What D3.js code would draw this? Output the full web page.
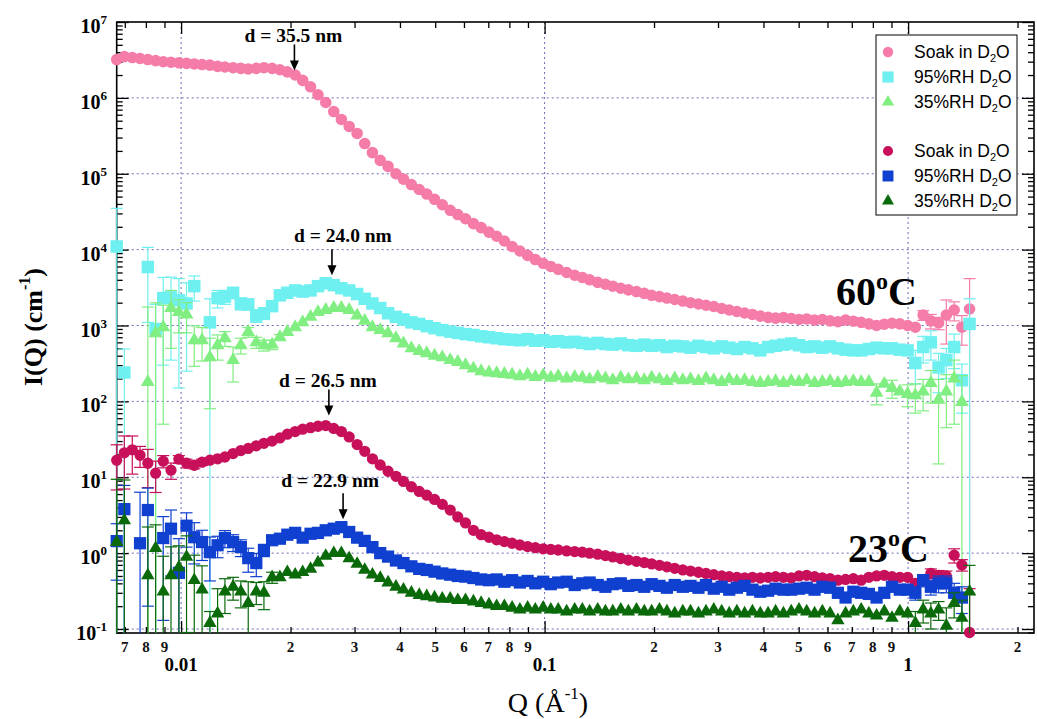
<!DOCTYPE html>
<html>
<head>
<meta charset="utf-8">
<script src="https://cdn.jsdelivr.net/npm/d3@7"></script>
<style>
  body { margin: 0; background: #fff; }
  svg { display: block; }
</style>
</head>
<body>
<svg id="chart" width="1037" height="719"></svg>
<script>
// --- data (Q in 1/Å, I(Q) in 1/cm) ---
const Q = [
  0.00665, 0.00698, 0.00734, 0.00771, 0.00810, 0.00851, 0.00893, 0.00938, 0.00986, 0.01035,
  0.01087, 0.01142, 0.0120, 0.0126, 0.0132, 0.0139, 0.0146, 0.0153, 0.0161, 0.0169,
  0.0178, 0.0187, 0.0196, 0.0206, 0.0216, 0.0227, 0.0238, 0.0250, 0.0263, 0.0276,
  0.0290, 0.0305, 0.0320, 0.0336, 0.0353, 0.0371, 0.0390, 0.0409, 0.0430, 0.0452,
  0.0474, 0.0498, 0.0523, 0.0550, 0.0577, 0.0606, 0.0637, 0.0669, 0.0703, 0.0738,
  0.0775, 0.0814, 0.0855, 0.0898, 0.0943, 0.0991, 0.104, 0.109, 0.115, 0.121,
  0.127, 0.133, 0.140, 0.147, 0.154, 0.162, 0.170, 0.179, 0.188, 0.197,
  0.207, 0.217, 0.228, 0.240, 0.252, 0.265, 0.278, 0.292, 0.307, 0.322,
  0.338, 0.355, 0.373, 0.392, 0.412, 0.432, 0.454, 0.477, 0.501, 0.526,
  0.553, 0.581, 0.610, 0.641, 0.673, 0.707, 0.743, 0.780, 0.819, 0.860,
  0.903, 0.949, 0.997, 1.047, 1.100, 1.155, 1.213, 1.274, 1.339, 1.406,
  1.476
];

// 60 C
const soak60 = [
  3.2e6, 3.5e6, 3.4e6, 3.3e6, 3.2e6, 3.1e6, 3.0e6, 2.95e6, 2.9e6, 2.85e6,
  2.8e6, 2.75e6, 2.7e6, 2.6e6, 2.55e6, 2.5e6, 2.45e6, 2.4e6, 2.45e6, 2.5e6,
  2.45e6, 2.35e6, 2.2e6, 2.0e6, 1.7e6, 1.4e6, 1.1e6, 8.7e5, 6.6e5, 5.2e5,
  4.2e5, 3.4e5, 2.5e5, 1.9e5, 1.5e5, 1.25e5, 1.0e5, 8.5e4, 7.2e4, 6.2e4,
  5.4e4, 4.6e4, 3.9e4, 3.3e4, 2.9e4, 2.55e4, 2.2e4, 1.95e4, 1.7e4, 1.5e4,
  1.3e4, 1.1e4, 9.6e3, 8.4e3, 7.4e3, 6.6e3, 6.0e3, 5.5e3, 5.0e3, 4.6e3,
  4.3e3, 4.0e3, 3.7e3, 3.5e3, 3.3e3, 3.1e3, 2.95e3, 2.8e3, 2.65e3, 2.5e3,
  2.4e3, 2.3e3, 2.2e3, 2.1e3, 2.0e3, 1.92e3, 1.85e3, 1.78e3, 1.68e3, 1.6e3,
  1.53e3, 1.46e3, 1.4e3, 1.33e3, 1.28e3, 1.25e3, 1.27e3, 1.24e3, 1.2e3, 1.22e3,
  1.18e3, 1.2e3, 1.15e3, 1.12e3, 1.18e3, 1.14e3, 1.1e3, 1.05e3, 1.0e3, 1.04e3,
  1.07e3, 1.05e3, 1.0e3, 950, 1.37e3, 1.15e3, 1.08e3, 1.37e3, 1.6e3, 950,
  1.65e3
];
const rh95_60 = [
  1.1e4, 240, null, null, 5.9e3, 900, 2.3e3, 2.35e3, 2.15e3, 1.95e3,
  3.3e3, null, 1.1e3, 2.3e3, 2.4e3, 2.7e3, 1.95e3, 1.9e3, 1.35e3, 1.45e3,
  1.8e3, 2.5e3, 2.7e3, 2.9e3, 2.8e3, 2.9e3, 3.3e3, 3.6e3, 3.4e3, 3.1e3,
  2.9e3, 2.6e3, 2.25e3, 1.95e3, 1.7e3, 1.45e3, 1.3e3, 1.2e3, 1.1e3, 1.05e3,
  980, 920, 870, 830, 800, 770, 750, 720, 700, 680,
  660, 650, 640, 660, 630, 640, 610, 620, 600, 610,
  590, 570, 590, 570, 560, 580, 550, 540, 560, 540,
  550, 520, 540, 530, 510, 540, 520, 500, 530, 510,
  490, 520, 500, 470, 520, 540, 560, 580, 550, 520,
  530, 510, 530, 500, 480, 470, 470, 490, 510, 500,
  500, 480, 470, 320, 520, 600, 280, 350, 520, 190,
  1050
];
const rh35_60 = [
  null, null, null, null, 180, 790, 950, 1.7e3, 1.5e3, 1.4e3,
  640, 640, 380, 550, 680, 350, 550, 820, 600, 550,
  560, 700, 820, 950, 1.1e3, 1.3e3, 1.5e3, 1.6e3, 1.7e3, 1.7e3,
  1.6e3, 1.35e3, 1.15e3, 950, 870, 790, 680, 580, 500, 460,
  430, 400, 380, 350, 330, 300, 270, 250, 240, 235,
  230, 225, 215, 225, 210, 220, 205, 215, 200, 210,
  205, 195, 210, 200, 190, 205, 195, 200, 190, 205,
  195, 185, 200, 190, 195, 185, 200, 190, 180, 195,
  185, 190, 180, 175, 180, 185, 175, 185, 180, 190,
  175, 180, 185, 175, 180, 185, 180, 180, 130, 170,
  150, 135, 125, 120, 135, 175, 105, 135, 200, 98,
  null
];

// 23 C
const soak23 = [
  16.8, 21, 23, 19.5, 15.3, 11.3, 16.3, 12.4, 17.3, 15.3,
  14.4, 15.8, 16.8, 17.5, 18.5, 20.5, 22.5, 24, 26, 28,
  30, 33, 37, 40, 43, 45, 47, 48, 44, 40,
  34, 27, 22, 17.5, 14.5, 12, 10.3, 8.8, 7.5, 6.5,
  5.8, 5.1, 4.4, 3.7, 3.0, 2.5, 2.0, 1.75, 1.62, 1.5,
  1.42, 1.35, 1.28, 1.22, 1.18, 1.14, 1.12, 1.1, 1.07, 1.05,
  1.03, 1.0, 0.97, 0.93, 0.89, 0.85, 0.81, 0.78, 0.75, 0.72,
  0.69, 0.66, 0.63, 0.6, 0.58, 0.56, 0.54, 0.52, 0.5, 0.49,
  0.48, 0.47, 0.48, 0.47, 0.48, 0.49, 0.48, 0.47, 0.5, 0.51,
  0.49, 0.47, 0.46, 0.44, 0.45, 0.46, 0.44, 0.48, 0.5, 0.51,
  0.49, 0.48, 0.48, 0.40, 0.44, 0.54, 0.51, 0.5, 0.94, 0.7,
  0.09
];
const rh95_23 = [
  1.44, 3.8, null, 1.35, 3.7, null, 1.58, 2.1, 0.55, 2.3,
  1.62, 1.4, 1.03, 1.27, 1.58, 1.4, 1.2, 0.86, 0.74, 1.1,
  1.48, 1.55, 1.75, 1.85, 1.6, 1.8, 1.85, 2.0, 2.1, 2.2,
  1.9, 1.6, 1.45, 1.2, 1.0, 0.9, 0.8, 0.74, 0.67, 0.62,
  0.6, 0.57, 0.54, 0.52, 0.5, 0.49, 0.47, 0.45, 0.44, 0.45,
  0.42, 0.44, 0.41, 0.43, 0.4, 0.42, 0.39, 0.41, 0.42, 0.38,
  0.4, 0.41, 0.38, 0.36, 0.39, 0.4, 0.37, 0.38, 0.36, 0.39,
  0.37, 0.35, 0.38, 0.36, 0.37, 0.35, 0.38, 0.34, 0.36, 0.33,
  0.35, 0.37, 0.33, 0.31, 0.32, 0.34, 0.33, 0.33, 0.34, 0.35,
  0.33, 0.36, 0.35, 0.3, 0.26, 0.31, 0.3, 0.29, 0.26, 0.3,
  0.36, 0.33, 0.33, 0.3, 0.44, 0.36, 0.4, 0.4, 0.3, 0.26,
  null
];
const rh35_23 = [
  1.4, 2.7, null, null, 0.51, 1.16, 0.31, 0.51, 0.65, 0.89,
  0.44, 0.33, 0.12, 0.16, 0.31, 0.36, 0.31, 0.22, 0.31, 0.3,
  0.48, 0.48, 0.56, 0.52, 0.56, 0.62, 0.75, 0.92, 1.0, 1.0,
  0.85, 0.72, 0.6, 0.52, 0.47, 0.41, 0.36, 0.33, 0.3, 0.28,
  0.27, 0.26, 0.25, 0.25, 0.24, 0.24, 0.23, 0.22, 0.21, 0.2,
  0.2, 0.19, 0.18, 0.19, 0.18, 0.19, 0.18, 0.18, 0.17, 0.18,
  0.18, 0.17, 0.18, 0.17, 0.17, 0.18, 0.17, 0.18, 0.17, 0.17,
  0.18, 0.17, 0.16, 0.17, 0.17, 0.16, 0.17, 0.18, 0.17, 0.16,
  0.17, 0.16, 0.17, 0.16, 0.16, 0.17, 0.16, 0.17, 0.18, 0.17,
  0.16, 0.17, 0.16, 0.13, 0.16, 0.17, 0.18, 0.16, 0.15, 0.17,
  0.14, 0.17, 0.16, 0.12, 0.18, 0.16, 0.18, 0.11, 0.22, 0.14,
  0.31
];

// error bars that are visible: [point index, +/- error]
const errSoak60 = [[104, 200], [105, 250], [106, 200], [107, 800], [108, 450], [109, 400], [110, 2500]];
const errRh95_60 = [[0, 2.4e4], [1, 250], [4, 4.8e3], [5, 1000], [6, 2000], [7, 2000], [8, 2000], [9, 1700],
  [10, 1200], [12, 1150], [13, 600], [14, 500], [15, 450], [16, 350], [17, 300], [18, 250], [19, 250], [20, 200],
  [103, 150], [104, 200], [105, 250], [106, 150], [107, 150], [108, 250], [109, 120], [110, 1200]];
const errRh35_60 = [[4, 1570], [5, 1200], [6, 900], [7, 1200], [8, 700], [9, 600], [10, 350], [11, 300], [12, 300],
  [13, 200], [14, 150], [15, 170], [16, 130], [17, 120], [18, 100], [19, 90], [20, 80], [21, 60],
  [98, 40], [100, 40], [102, 40], [103, 50], [104, 60], [105, 80], [106, 90], [107, 90], [108, 150], [109, 120]];
const errSoak23 = [[0, 10], [1, 14], [2, 12], [3, 6], [4, 8], [5, 5], [6, 3], [7, 3], [8, 2], [9, 2], [10, 1.5],
  [11, 1.5], [12, 1], [104, 0.06], [105, 0.08], [106, 0.08], [107, 0.08], [108, 0.2], [109, 0.12], [110, 0.25]];
const errRh95_23 = [[0, 1.0], [1, 4.0], [3, 5.0], [4, 3.5], [6, 1.45], [7, 1.6], [8, 1.0], [9, 1.1], [10, 0.9],
  [11, 0.6], [12, 0.6], [13, 0.4], [14, 0.4], [15, 0.35], [16, 0.3], [17, 0.3], [18, 0.25], [19, 0.2], [20, 0.15],
  [103, 0.06], [104, 0.08], [105, 0.08], [106, 0.1], [107, 0.1], [108, 0.1], [109, 0.1]];
const errRh35_23 = [[0, 8], [1, 6.5], [4, 1.7], [5, 1.2], [6, 0.6], [7, 0.7], [8, 0.6], [9, 0.8], [10, 0.5],
  [11, 0.35], [12, 0.05], [13, 0.18], [14, 0.15], [15, 0.12], [16, 0.12], [17, 0.2], [18, 0.1], [19, 0.12], [20, 0.08],
  [103, 0.05], [104, 0.06], [105, 0.06], [106, 0.05], [107, 0.08], [108, 0.08], [109, 0.1], [110, 0.38]];

const legendNames = ['Soak in D', '95%RH D', '35%RH D', 'Soak in D', '95%RH D', '35%RH D'];

// axis ticks and labels
const yExponents = [-1, 0, 1, 2, 3, 4, 5, 6, 7];
const xMajorTicks = [0.01, 0.1, 1];
const xMajorLabels = ['0.01', '0.1', '1'];
const xMinorTicks = [0.007, 0.008, 0.009, 0.02, 0.03, 0.04, 0.05, 0.06, 0.07, 0.08, 0.09,
  0.2, 0.3, 0.4, 0.5, 0.6, 0.7, 0.8, 0.9, 2];
const xMinorLabels = ['7', '8', '9', '2', '3', '4', '5', '6', '7', '8', '9',
  '2', '3', '4', '5', '6', '7', '8', '9', '2'];

const annotations = [
  { label: 'd = 35.5 nm', q: 0.0205, tip: 2.3e6, tx: -1, ty: -28 },
  { label: 'd = 24.0 nm', q: 0.0260, tip: 4.6e3, tx: 11, ty: -33 },
  { label: 'd = 26.5 nm', q: 0.0255, tip: 65, tx: -1, ty: -29 },
  { label: 'd = 22.9 nm', q: 0.0279, tip: 2.8, tx: -13, ty: -32 }
];

// --- drawing ---
const serif = '"Liberation Serif", "Times New Roman", Times, serif';
const sans = '"Liberation Sans", Arial, Helvetica, sans-serif';

const svg = d3.select('#chart');
const box = { left: 116.7, right: 1034, top: 22, bottom: 633 };

const x = d3.scaleLog().domain([0.00665, 2.22]).range([box.left, box.right]);
const y = d3.scaleLog().domain([0.0886, 1e7]).range([box.bottom, box.top]);

svg.append('rect').attr('width', 1037).attr('height', 719).attr('fill', '#fff');

// dotted grid at decades
const grid = svg.append('g')
  .attr('stroke', '#6a6ab4')
  .attr('stroke-width', 1)
  .attr('stroke-dasharray', '2,3');
grid.selectAll('line.gh')
  .data(yExponents.filter(e => e < 7).map(e => Math.pow(10, e)))
  .join('line').attr('class', 'gh')
  .attr('x1', box.left).attr('x2', box.right)
  .attr('y1', d => y(d)).attr('y2', d => y(d));
grid.selectAll('line.gv')
  .data(xMajorTicks)
  .join('line').attr('class', 'gv')
  .attr('y1', box.top).attr('y2', box.bottom)
  .attr('x1', d => x(d)).attr('x2', d => x(d));

// ticks, all pointing inwards
const yMinorTicks = [];
for (let e = -2; e <= 6; e++) {
  for (let k = 2; k <= 9; k++) {
    const v = k * Math.pow(10, e);
    if (v > 0.0886 && v < 1e7) yMinorTicks.push(v);
  }
}
const yMajorTicks = yExponents.map(e => Math.pow(10, e));

function tickAxis(axisFn, scale, values, len, transform) {
  svg.append('g')
    .attr('transform', transform)
    .call(axisFn(scale).tickValues(values).tickSize(-len).tickFormat(''))
    .call(g => g.select('.domain').remove())
    .call(g => g.selectAll('line').attr('stroke', '#000').attr('stroke-width', 1.3));
}
tickAxis(d3.axisBottom, x, xMinorTicks, 6, `translate(0,${box.bottom})`);
tickAxis(d3.axisBottom, x, xMajorTicks, 12, `translate(0,${box.bottom})`);
tickAxis(d3.axisTop, x, xMinorTicks, 6, `translate(0,${box.top})`);
tickAxis(d3.axisTop, x, xMajorTicks, 12, `translate(0,${box.top})`);
tickAxis(d3.axisLeft, y, yMinorTicks, 6, `translate(${box.left},0)`);
tickAxis(d3.axisLeft, y, yMajorTicks, 12, `translate(${box.left},0)`);
tickAxis(d3.axisRight, y, yMinorTicks, 6, `translate(${box.right},0)`);
tickAxis(d3.axisRight, y, yMajorTicks, 12, `translate(${box.right},0)`);

svg.append('rect')
  .attr('x', box.left).attr('y', box.top)
  .attr('width', box.right - box.left).attr('height', box.bottom - box.top)
  .attr('fill', 'none').attr('stroke', '#000').attr('stroke-width', 1.6);

// y tick labels 10^n
svg.append('g')
  .attr('font-family', serif).attr('font-weight', 'bold').attr('fill', '#000')
  .selectAll('text').data(yExponents).join('text')
  .attr('x', 107).attr('y', d => y(Math.pow(10, d)) + 11)
  .attr('text-anchor', 'end')
  .each(function (d) {
    const t = d3.select(this);
    t.append('tspan').attr('font-size', 20).text('10');
    t.append('tspan').attr('font-size', 13).attr('dy', -9).text(d);
  });

// x tick labels
svg.append('g')
  .attr('font-family', serif).attr('font-weight', 'bold').attr('font-size', 15).attr('fill', '#111')
  .attr('text-anchor', 'middle')
  .selectAll('text').data(xMinorTicks).join('text')
  .attr('x', d => x(d)).attr('y', 652)
  .text((d, i) => xMinorLabels[i]);
svg.append('g')
  .attr('font-family', serif).attr('font-weight', 'bold').attr('font-size', 19).attr('fill', '#000')
  .attr('text-anchor', 'middle')
  .selectAll('text').data(xMajorTicks).join('text')
  .attr('x', d => x(d)).attr('y', 671)
  .text((d, i) => xMajorLabels[i]);

// axis titles
const xt = svg.append('text')
  .attr('x', 548).attr('y', 712)
  .attr('text-anchor', 'middle')
  .attr('font-family', serif).attr('font-size', 28).attr('fill', '#000');
xt.append('tspan').text('Q (Å');
xt.append('tspan').attr('font-size', 17).attr('dy', -13).text('-1');
xt.append('tspan').attr('dy', 13).text(')');

const yt = svg.append('text')
  .attr('transform', 'translate(42,327) rotate(-90)')
  .attr('text-anchor', 'middle')
  .attr('font-family', serif).attr('font-weight', 'bold').attr('font-size', 26).attr('fill', '#000');
yt.append('tspan').text('I(Q) (cm');
yt.append('tspan').attr('font-size', 16).attr('dy', -12).text('-1');
yt.append('tspan').attr('dy', 12).text(')');

// series
const seriesList = [
  { vals: soak60, err: errSoak60, color: '#f57ba9', shape: d3.symbolCircle, size: 105 },
  { vals: rh95_60, err: errRh95_60, color: '#6ef0f0', shape: d3.symbolSquare, size: 156 },
  { vals: rh35_60, err: errRh35_60, color: '#80ee80', shape: d3.symbolTriangle, size: 82 },
  { vals: soak23, err: errSoak23, color: '#c8105a', shape: d3.symbolCircle, size: 100 },
  { vals: rh95_23, err: errRh95_23, color: '#1040d0', shape: d3.symbolSquare, size: 150 },
  { vals: rh35_23, err: errRh35_23, color: '#0a6a0a', shape: d3.symbolTriangle, size: 78 }
];

const plot = svg.append('g');
seriesList.forEach(s => {
  const eb = plot.append('g').attr('stroke', s.color).attr('stroke-width', 1.2).attr('fill', 'none');
  s.err.forEach(([i, e]) => {
    const v = s.vals[i];
    if (v == null) return;
    const cx = x(Q[i]);
    const hiV = v + e, loV = v - e;
    const yHi = Math.max(box.top, y(hiV));
    const yLo = loV > y.domain()[0] ? y(loV) : box.bottom;
    eb.append('line').attr('x1', cx).attr('x2', cx).attr('y1', yHi).attr('y2', yLo);
    if (yHi > box.top) eb.append('line').attr('x1', cx - 6).attr('x2', cx + 6).attr('y1', yHi).attr('y2', yHi);
    if (loV > y.domain()[0]) eb.append('line').attr('x1', cx - 6).attr('x2', cx + 6).attr('y1', yLo).attr('y2', yLo);
  });
  const pts = Q.map((q, i) => ({ q, v: s.vals[i] })).filter(p => p.v != null);
  plot.append('g').selectAll('path').data(pts).join('path')
    .attr('transform', p => `translate(${x(p.q)},${y(p.v)})`)
    .attr('d', d3.symbol().type(s.shape).size(s.size))
    .attr('fill', s.color);
});

// peak annotations
const ann = svg.append('g').attr('font-family', serif).attr('font-weight', 'bold').attr('font-size', 19.5);
annotations.forEach(a => {
  const ax = x(a.q), ay = y(a.tip);
  ann.append('text').attr('x', ax + a.tx).attr('y', ay + a.ty).attr('text-anchor', 'middle').text(a.label);
  ann.append('line').attr('x1', ax).attr('x2', ax).attr('y1', ay - 26).attr('y2', ay - 8)
    .attr('stroke', '#000').attr('stroke-width', 1.6);
  ann.append('path').attr('d', `M${ax - 4.5},${ay - 10}L${ax + 4.5},${ay - 10}L${ax},${ay}Z`).attr('fill', '#000');
});

// temperature labels
function tempLabel(tx, ty, num) {
  const t = svg.append('text').attr('x', tx).attr('y', ty)
    .attr('font-family', serif).attr('font-weight', 'bold').attr('font-size', 40).attr('fill', '#000');
  t.append('tspan').text(num);
  t.append('tspan').attr('font-size', 24).attr('dy', -16).text('o');
  t.append('tspan').attr('dy', 16).text('C');
}
tempLabel(836, 305, '60');
tempLabel(848, 562, '23');

// legend
const lg = svg.append('g');
lg.append('rect').attr('x', 876).attr('y', 35).attr('width', 141).attr('height', 180)
  .attr('fill', '#fff').attr('stroke', '#000').attr('stroke-width', 1);
const legendRows = [52, 77, 102, 151, 176, 201];
seriesList.forEach((s, i) => {
  const ry = legendRows[i];
  lg.append('path')
    .attr('transform', `translate(888,${ry})`)
    .attr('d', d3.symbol().type(s.shape).size(s.size * 0.8))
    .attr('fill', s.color);
  const t = lg.append('text').attr('x', 914).attr('y', ry + 6)
    .attr('font-family', sans).attr('font-size', 17.5).attr('fill', '#000');
  t.append('tspan').text(legendNames[i]);
  t.append('tspan').attr('font-size', 11).attr('dy', 4).text('2');
  t.append('tspan').attr('dy', -4).text('O');
});
</script>
</body>
</html>
